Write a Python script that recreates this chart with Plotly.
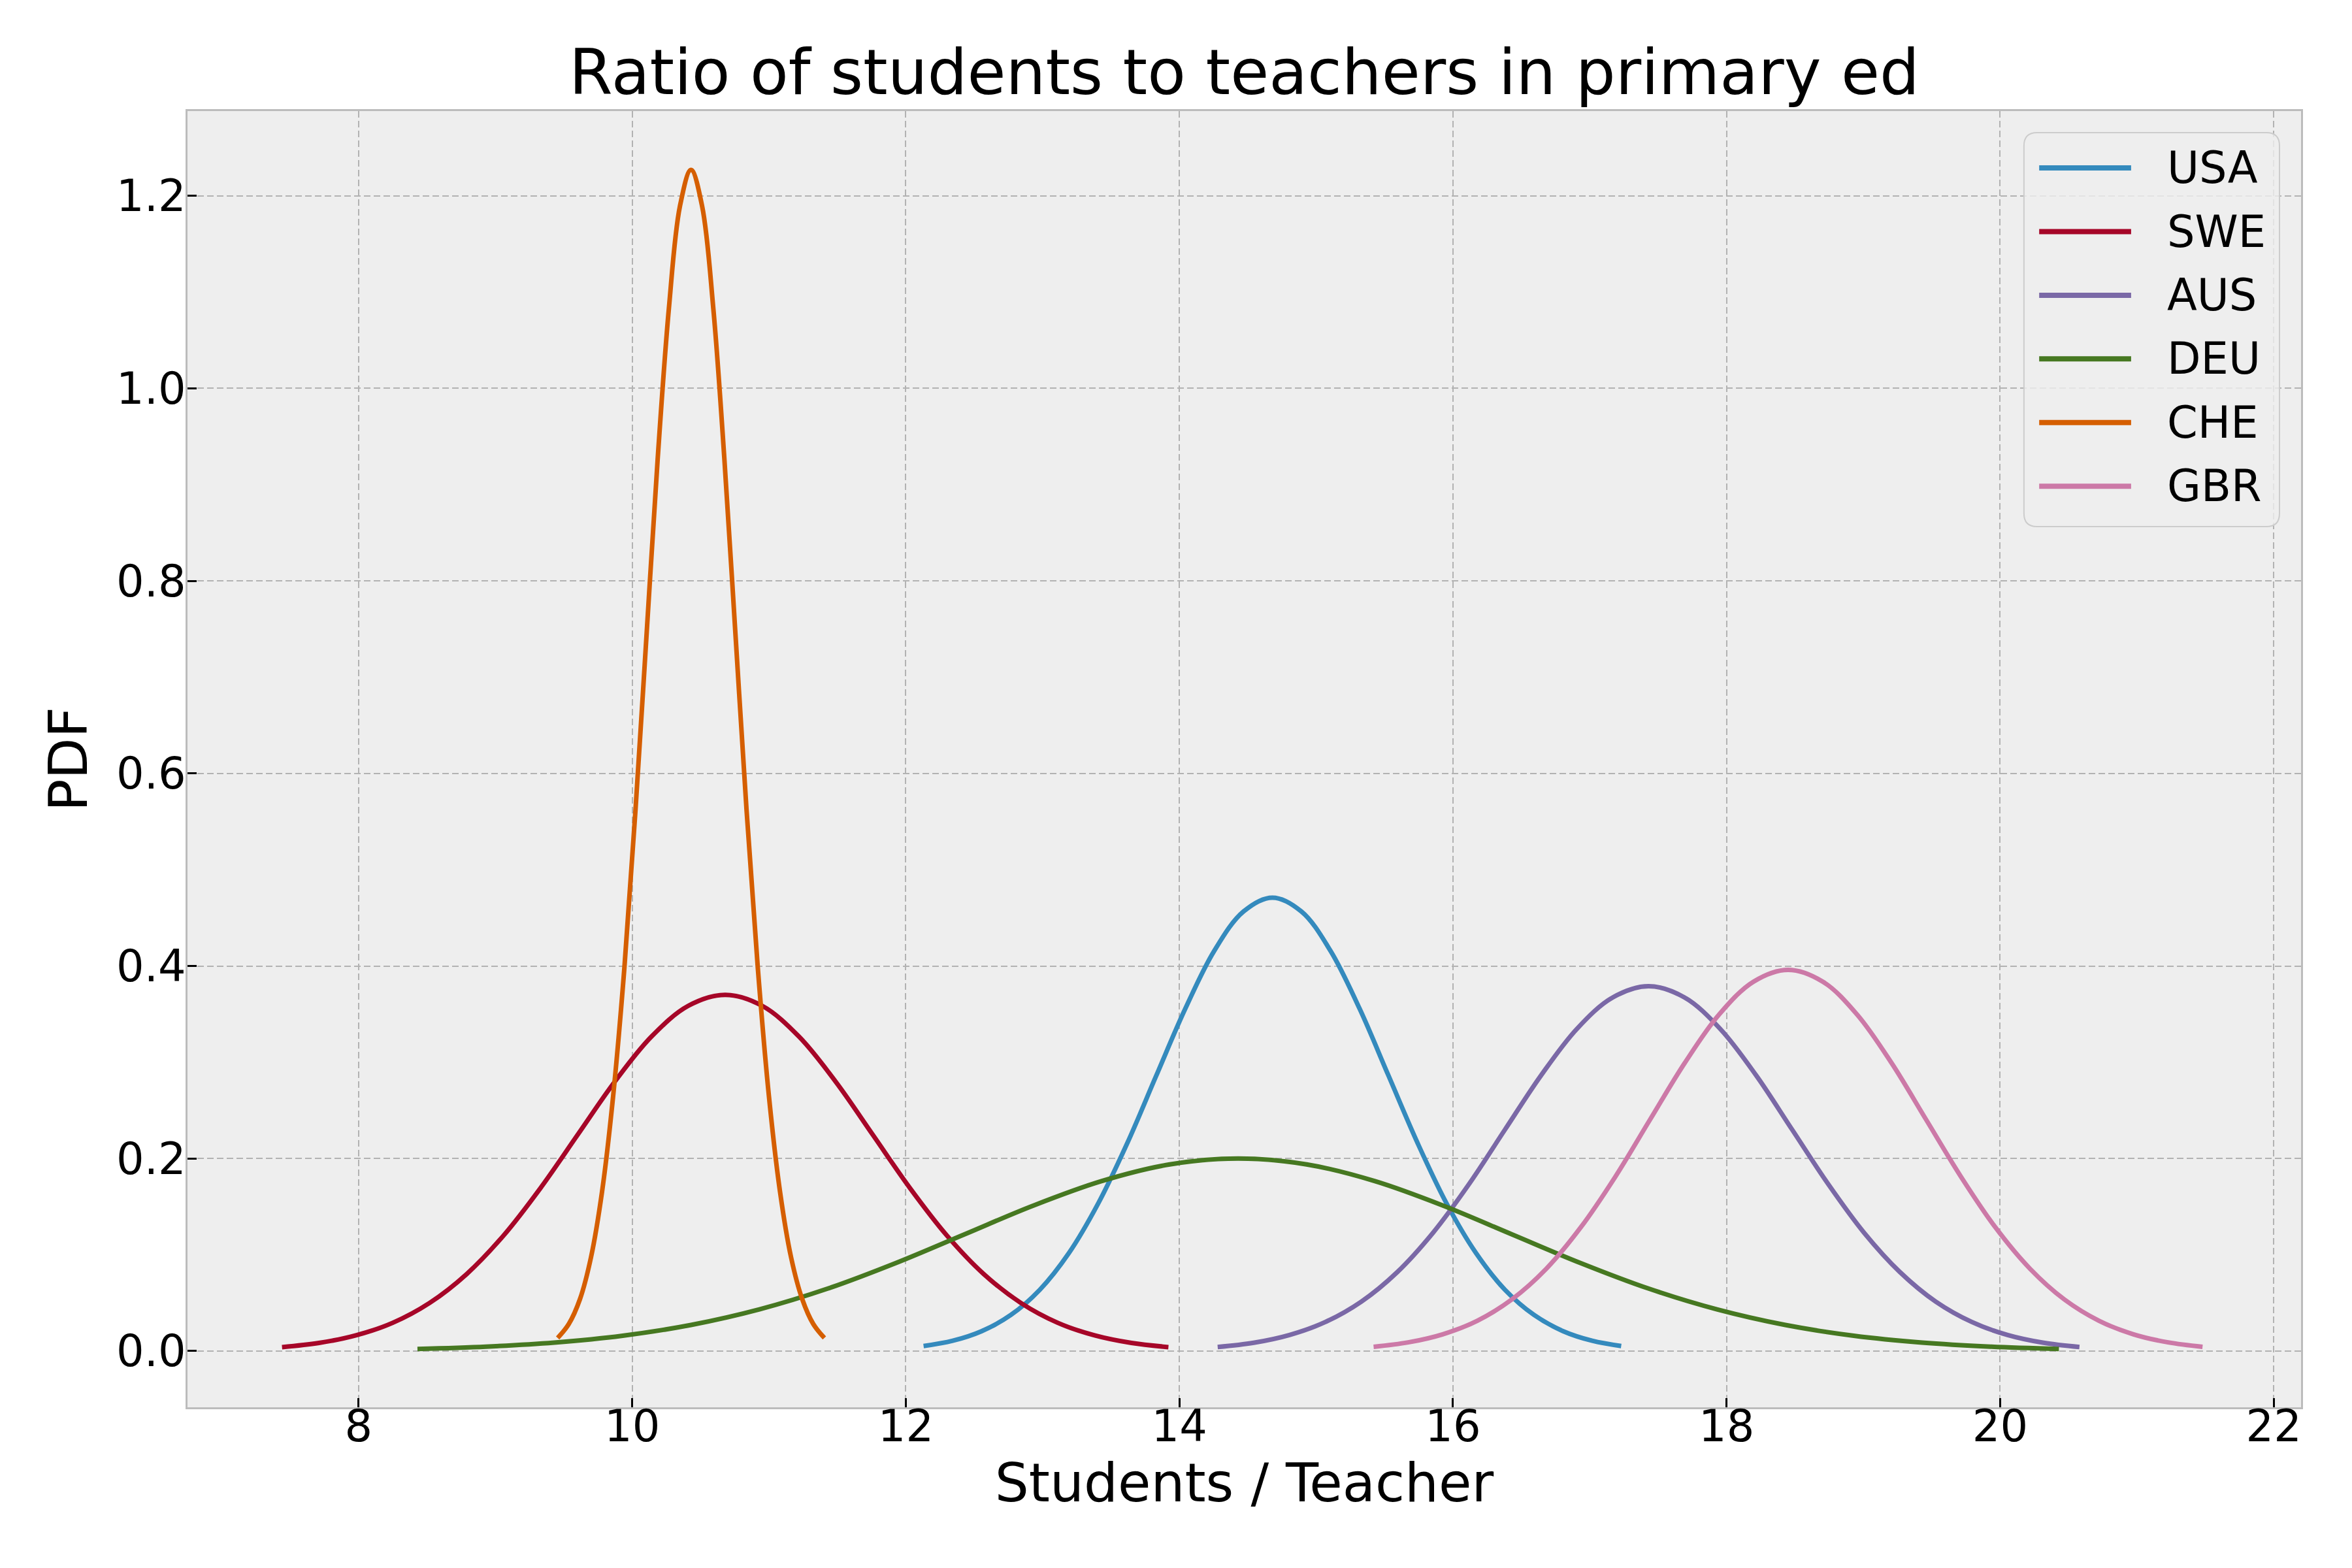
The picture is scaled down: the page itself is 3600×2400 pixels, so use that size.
import plotly.graph_objects as go

# bmh-style colours
COLORS = ["#348ABD", "#A60628", "#7A68A6", "#467821", "#D55E00", "#CC79A7"]
countries = ["USA", "SWE", "AUS", "DEU", "CHE", "GBR"]

# points (students per teacher, density)
usa_x = [12.13, 12.343, 12.555, 12.768, 12.98, 13.193, 13.405, 13.618, 13.83, 14.043, 14.255, 14.468, 14.68,
         14.893, 15.105, 15.318, 15.53, 15.743, 15.955, 16.168, 16.38, 16.593, 16.805, 17.018, 17.23]
usa_y = [0.0052, 0.0107, 0.0207, 0.0375, 0.0637, 0.1019, 0.1529, 0.2156, 0.2857, 0.3555, 0.4157, 0.4565, 0.471,
         0.4565, 0.4157, 0.3555, 0.2857, 0.2156, 0.1529, 0.1019, 0.0637, 0.0375, 0.0207, 0.0107, 0.0052]

swe_x = [7.44, 7.71, 7.98, 8.25, 8.52, 8.79, 9.06, 9.33, 9.60, 9.87, 10.14, 10.41, 10.68,
         10.95, 11.22, 11.49, 11.76, 12.03, 12.30, 12.57, 12.84, 13.11, 13.38, 13.65, 13.92]
swe_y = [0.0041, 0.0084, 0.0163, 0.0294, 0.0501, 0.0800, 0.1201, 0.1694, 0.2244, 0.2793, 0.3265, 0.3586, 0.370,
         0.3586, 0.3265, 0.2793, 0.2244, 0.1694, 0.1201, 0.0800, 0.0501, 0.0294, 0.0163, 0.0084, 0.0041]

aus_x = [14.28, 14.543, 14.805, 15.068, 15.33, 15.593, 15.855, 16.118, 16.38, 16.643, 16.905, 17.168, 17.43,
         17.693, 17.955, 18.218, 18.48, 18.743, 19.005, 19.268, 19.53, 19.793, 20.055, 20.318, 20.58]
aus_y = [0.0042, 0.0086, 0.0167, 0.0302, 0.0513, 0.0820, 0.1230, 0.1735, 0.2299, 0.2861, 0.3345, 0.3673, 0.379,
         0.3673, 0.3345, 0.2861, 0.2299, 0.1735, 0.1230, 0.0820, 0.0513, 0.0302, 0.0167, 0.0086, 0.0042]

deu_x = [8.43, 8.93, 9.43, 9.93, 10.43, 10.93, 11.43, 11.93, 12.43, 12.93, 13.43, 13.93, 14.43,
         14.93, 15.43, 15.93, 16.43, 16.93, 17.43, 17.93, 18.43, 18.93, 19.43, 19.93, 20.43]
deu_y = [0.0022, 0.0046, 0.0088, 0.0159, 0.0271, 0.0433, 0.0649, 0.0916, 0.1213, 0.1510, 0.1765, 0.1939, 0.200,
         0.1939, 0.1765, 0.1510, 0.1213, 0.0916, 0.0649, 0.0433, 0.0271, 0.0159, 0.0088, 0.0046, 0.0022]

che_x = [9.455, 9.536, 9.618, 9.699, 9.78, 9.861, 9.943, 10.024, 10.105, 10.186, 10.268, 10.349, 10.43,
         10.511, 10.593, 10.674, 10.755, 10.836, 10.918, 10.999, 11.08, 11.161, 11.243, 11.324, 11.405]
che_y = [0.0136, 0.0280, 0.0539, 0.0976, 0.1661, 0.2654, 0.3984, 0.5618, 0.7442, 0.9262, 1.0828, 1.1893, 1.227,
         1.1893, 1.0828, 0.9262, 0.7442, 0.5618, 0.3984, 0.2654, 0.1661, 0.0976, 0.0539, 0.0280, 0.0136]

gbr_x = [15.42, 15.673, 15.925, 16.178, 16.43, 16.683, 16.935, 17.188, 17.44, 17.693, 17.945, 18.198, 18.45,
         18.703, 18.955, 19.208, 19.46, 19.713, 19.965, 20.218, 20.47, 20.723, 20.975, 21.228, 21.48]
gbr_y = [0.0044, 0.0090, 0.0174, 0.0315, 0.0536, 0.0856, 0.1286, 0.1813, 0.2402, 0.2989, 0.3495, 0.3838, 0.396,
         0.3838, 0.3495, 0.2989, 0.2402, 0.1813, 0.1286, 0.0856, 0.0536, 0.0315, 0.0174, 0.0090, 0.0044]

x_ticks = [8, 10, 12, 14, 16, 18, 20, 22]
y_ticks = [0.0, 0.2, 0.4, 0.6, 0.8, 1.0, 1.2]

curves = [(usa_x, usa_y), (swe_x, swe_y), (aus_x, aus_y),
          (deu_x, deu_y), (che_x, che_y), (gbr_x, gbr_y)]

fig = go.Figure()
for name, (xs, ys), color in zip(countries, curves, COLORS):
    fig.add_trace(go.Scatter(
        x=xs, y=ys, name=name, mode="lines", showlegend=False,
        line=dict(color=color, width=7, shape="spline", smoothing=1.0),
    ))

axis_common = dict(
    showline=True, linecolor="#bcbcbc", linewidth=3, mirror=True,
    showgrid=True, gridcolor="#b2b2b2", gridwidth=2, griddash="10px,5px",
    zeroline=False,
    ticks="inside", ticklen=14, tickwidth=3, tickcolor="black",
    tickfont=dict(size=67, color="black"),
)

fig.update_xaxes(
    range=[6.749, 22.2], tickvals=x_ticks, ticklabelstandoff=-31,
    title=dict(text="Students / Teacher", font=dict(size=82, color="black"), standoff=14),
    **axis_common,
)
fig.update_yaxes(
    range=[-0.0584, 1.288], tickvals=y_ticks, tickformat=".1f", ticklabelstandoff=-14,
    title=dict(text="PDF", font=dict(size=82, color="black"), standoff=18),
    **axis_common,
)

# matplotlib-like legend box (rounded corners) drawn in paper coordinates
bx0, bx1, by0, by1 = 0.8689, 0.9898, 0.6794, 0.9834
rx, ry = 0.0062, 0.0101
box_path = (f"M {bx0 + rx},{by1} L {bx1 - rx},{by1} Q {bx1},{by1} {bx1},{by1 - ry} "
            f"L {bx1},{by0 + ry} Q {bx1},{by0} {bx1 - rx},{by0} "
            f"L {bx0 + rx},{by0} Q {bx0},{by0} {bx0},{by0 + ry} "
            f"L {bx0},{by1 - ry} Q {bx0},{by1} {bx0 + rx},{by1} Z")
fig.add_shape(type="path", path=box_path, xref="paper", yref="paper",
              fillcolor="rgba(238,238,238,0.8)", line=dict(color="#cccccc", width=2))

row_top, row_step = 0.9561, 0.0491
for i, (name, color) in enumerate(zip(countries, COLORS)):
    ry_i = row_top - i * row_step
    fig.add_shape(type="line", xref="paper", yref="paper",
                  x0=0.8761, x1=0.9196, y0=ry_i, y1=ry_i,
                  line=dict(color=color, width=8))
    fig.add_annotation(text=name, xref="paper", yref="paper", x=0.9360, y=ry_i,
                       xanchor="left", yanchor="middle", showarrow=False,
                       font=dict(size=67, color="black"))

fig.update_layout(
    width=3600, height=2400,
    margin=dict(l=287, r=78, t=170, b=246),
    paper_bgcolor="white", plot_bgcolor="#eeeeee",
    font=dict(family="DejaVu Sans", color="black"),
    title=dict(text="Ratio of students to teachers in primary ed",
               font=dict(size=96, color="black"),
               x=0.5, xref="paper", xanchor="center",
               y=0.94, yref="container", yanchor="bottom"),
    showlegend=False,
)

fig.write_html("out.html", config={"displayModeBar": False},
               post_script="document.body.style.margin='0';")
